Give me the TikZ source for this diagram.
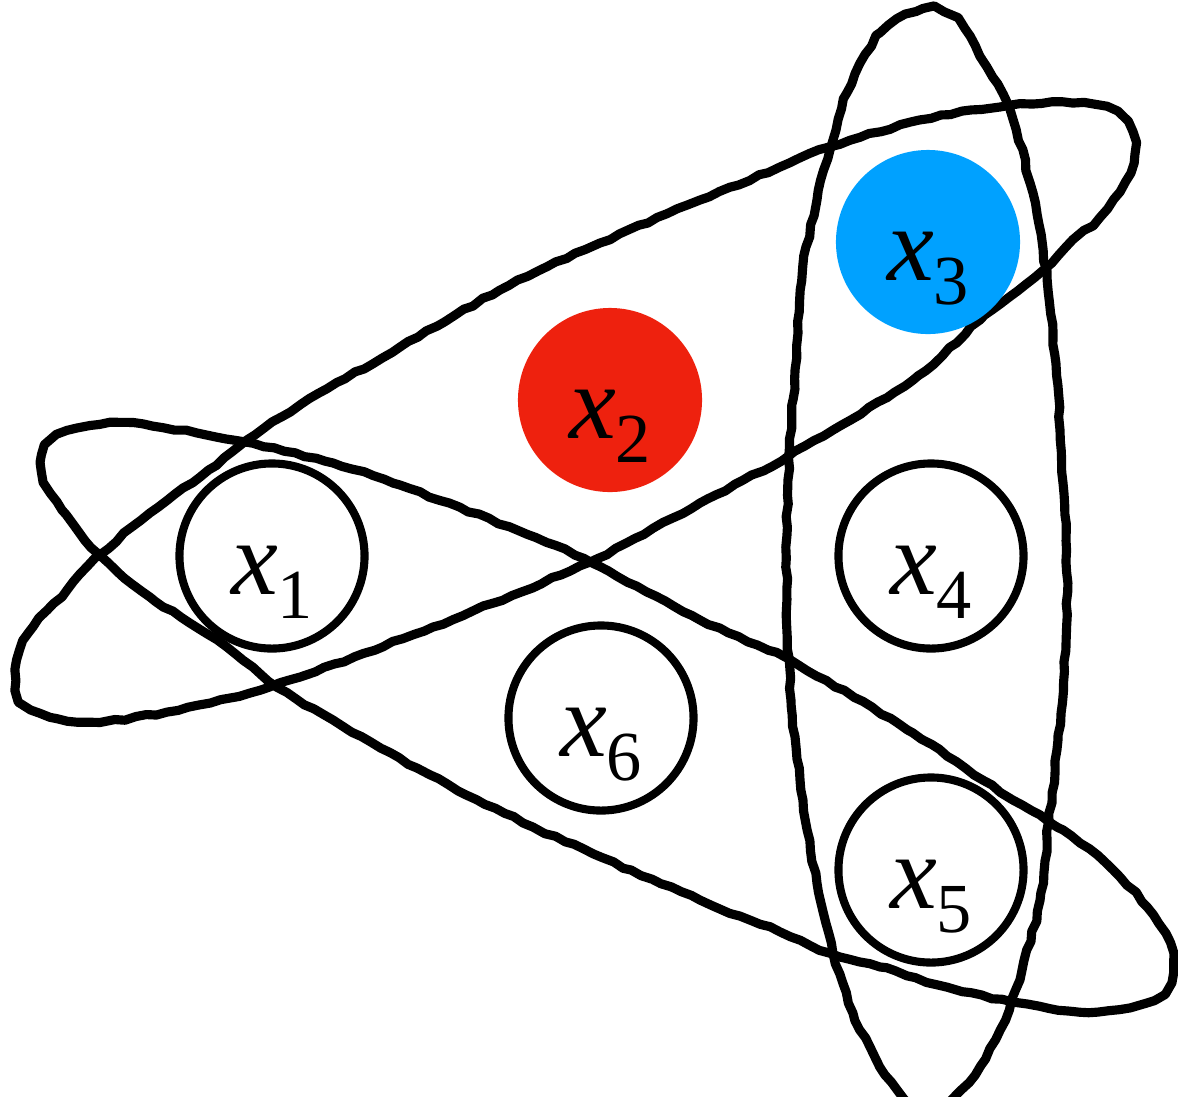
\documentclass[tikz,border=0pt]{standalone}
\usepackage{fontspec}
\setmainfont{Liberation Serif}
\usetikzlibrary{decorations.pathmorphing}
\definecolor{vred}{HTML}{EE210E}
\definecolor{vblue}{HTML}{00A1FF}
\newcommand{\xv}[1]{\textit{x}\raisebox{-7pt}{\fontsize{20}{20}\selectfont #1}}
\begin{document}
\begin{tikzpicture}[x=0.01cm,y=-0.01cm,line join=round,line cap=round]
	\tikzset{vert/.style={circle,draw,line width=2.3pt,minimum size=1.85cm,inner sep=0pt,
			text height=1.06cm,text depth=0.3cm,font=\fontsize{30}{31}\selectfont},
		filled/.style={vert,draw=none,minimum size=1.84cm,fill=#1},
		hedge/.style={line width=2.6pt,decorate,
			decoration={random steps,segment length=3pt,amplitude=0.35pt}}}
	\pgfmathsetseed{7}
	\useasboundingbox (0,0) rectangle (1178,1096);
	% hyperedge {x3,x4,x5}
	\draw[hedge] plot[smooth cycle] coordinates {(1060,430) (1066,540) (1066,640) (1058,740)
		(1049,820) (1040,900) (1022,970) (1000,1030) (975,1075) (950,1100) (925,1110) (905,1098)
		(880,1067) (853,1013) (833,953) (817,883) (803,800) (791,700) (787,600) (788,480) (793,400)
		(798,333) (803,267) (817,200) (830,150) (847,93) (880,33) (923,9) (957,20) (987,67)
		(1010,110) (1030,183) (1043,250) (1053,333)};
	% hyperedge {x1,x2,x3}
	\draw[hedge] plot[smooth cycle] coordinates {(400,347) (500,290) (600,243) (700,200) (780,167)
		(830,147) (920,120) (1000,107) (1063,102) (1107,107) (1127,123) (1135,143) (1130,173)
		(1100,217) (1073,240) (1043,270) (980,320) (913,380) (790,455) (700,503) (590,562)
		(433,627) (300,677) (230,698) (167,712) (100,722) (50,717) (20,700) (17,660) (33,627)
		(67,590) (100,555) (150,513) (200,477) (247,440) (300,405)};
	% hyperedge {x1,x6,x5}
	\draw[hedge] plot[smooth cycle] coordinates {(333,463) (400,485) (517,530) (590,562) (700,620)
		(790,660) (913,733) (1013,800) (1063,830) (1113,870) (1147,907) (1170,943) (1173,973)
		(1163,993) (1130,1007) (1080,1012) (1013,1002) (947,987) (880,967) (830,953) (780,932)
		(700,900) (533,827) (417,768) (333,720) (277,687) (217,640) (150,597) (100,555) (62,510)
		(44,482) (42,455) (58,436) (90,426) (133,423) (233,440)};
	% vertices
	\foreach \n/\px/\py in {1/272/556,4/931/556,5/931/870,6/601/718}
	\node[vert] (x\n) at (\px,\py) {\xv{\n}};
	\node[filled=vred] (x2) at (610,400) {\xv{2}};
	\node[filled=vblue] (x3) at (928,242) {\xv{3}};
\end{tikzpicture}
\end{document}
